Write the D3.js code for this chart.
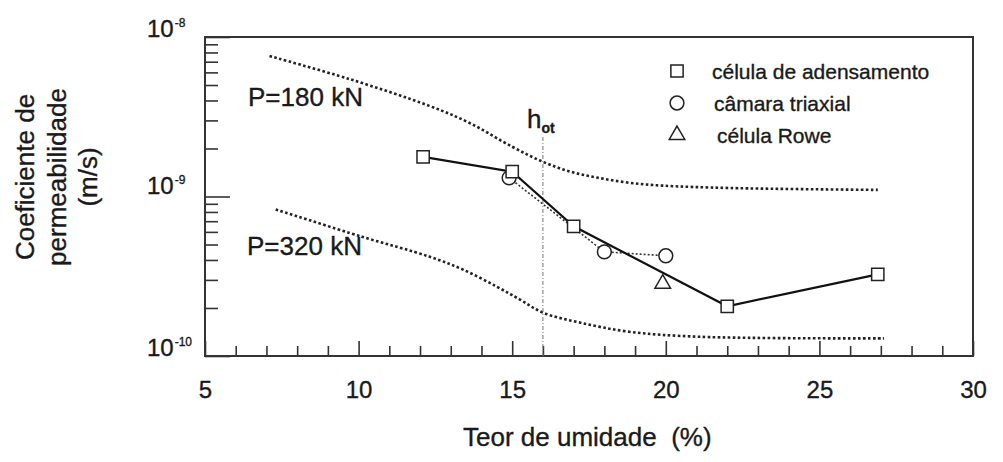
<!DOCTYPE html>
<html>
<head>
<meta charset="utf-8">
<script src="https://cdn.jsdelivr.net/npm/d3@7"></script>
<style>
  html, body { margin: 0; padding: 0; background: #fff; }
  svg { display: block; font-family: "Liberation Sans", Arial, sans-serif; }
  text { fill: #1a1a1a; stroke: #1a1a1a; stroke-width: 0.35px; white-space: pre; }
</style>
</head>
<body>
<svg id="chart" width="1003" height="462"></svg>
<script>
// Permeability coefficient vs. moisture content
const adensamentoX = [12.1, 15.0, 17.0, 22.0, 26.9];
const adensamentoK = [1.77e-9, 1.43e-9, 6.5e-10, 2.05e-10, 3.25e-10];

const triaxialX = [14.9, 18.0, 20.0];
const triaxialK = [1.31e-9, 4.5e-10, 4.25e-10];

const roweX = [19.9];
const roweK = [2.84e-10];

// reference curves for the two loads
const p180X = [7.1, 9.7, 12.3, 13.6, 15.0, 16.0, 16.9, 17.8, 18.8, 19.9, 22.1, 26.9];
const p180K = [7.6e-9, 5.45e-9, 3.7e-9, 2.9e-9, 2.05e-9, 1.65e-9, 1.43e-9, 1.31e-9, 1.22e-9, 1.17e-9, 1.13e-9, 1.10e-9];

const p320X = [7.3, 10.1, 12.3, 13.4, 14.5, 15.25, 16.0, 17.2, 18.8, 21.1, 27.1];
const p320K = [8.3e-10, 5.6e-10, 4.2e-10, 3.48e-10, 2.72e-10, 2.26e-10, 1.87e-10, 1.62e-10, 1.42e-10, 1.32e-10, 1.29e-10];

const hotX = 16;

const xMajorTicks = [5, 10, 15, 20, 25, 30];
const yMajorTicks = [1e-10, 1e-9, 1e-8];
const yTickExponents = ["-10", "-9", "-8"];
const legendLabels = ["célula de adensamento", "câmara triaxial", "célula Rowe"];

const svg = d3.select("#chart");
const x = d3.scaleLinear().domain([5, 30]).range([205, 973]);
const y = d3.scaleLog().domain([1e-10, 1e-8]).range([356, 37]);

const ink = "#1a1a1a";

// minor tick values
const xMinor = d3.range(6, 30).filter(v => v % 5 !== 0);
const yMinor = [];
[1e-10, 1e-9].forEach(d => { for (let m = 2; m <= 9; m++) yMinor.push(m * d); });

// bottom axis: inward ticks
const xAxisMinor = svg.append("g").attr("transform", "translate(0,356)")
  .call(d3.axisBottom(x).tickValues(xMinor).tickSize(-10).tickFormat(() => ""));
const xAxisMajor = svg.append("g").attr("transform", "translate(0,356)")
  .call(d3.axisBottom(x).tickValues(xMajorTicks).tickSize(-15).tickPadding(25));
xAxisMajor.selectAll("text").attr("font-size", 24).attr("fill", ink)
  .style("font-family", "'Liberation Sans', Arial, sans-serif");

// left axis: inward ticks
const yAxisMinor = svg.append("g").attr("transform", "translate(205,0)")
  .call(d3.axisLeft(y).tickValues(yMinor).tickSize(-13).tickFormat(() => ""));
const yAxisMajor = svg.append("g").attr("transform", "translate(205,0)")
  .call(d3.axisLeft(y).tickValues(yMajorTicks).tickSize(-25).tickFormat(() => ""));

[xAxisMinor, xAxisMajor, yAxisMinor, yAxisMajor].forEach(g => {
  g.select(".domain").remove();
  g.selectAll("line").attr("stroke", "#333").attr("stroke-width", 1.6);
});

// power-of-ten labels
yAxisMajor.selectAll(".tick").each(function(d, i) {
  const t = d3.select(this).append("text")
    .attr("x", -58).attr("y", i === 1 ? -3 : -1)
    .attr("text-anchor", "start")
    .attr("fill", ink)
    .style("font-family", "'Liberation Sans', Arial, sans-serif");
  t.append("tspan").attr("font-size", 24).text("10");
  t.append("tspan").attr("font-size", 12).attr("dy", -10).attr("dx", 1).text(yTickExponents[i]);
});

// frame
svg.append("rect")
  .attr("x", x(5)).attr("y", y(1e-8))
  .attr("width", x(30) - x(5)).attr("height", y(1e-10) - y(1e-8))
  .attr("fill", "none").attr("stroke", "#333").attr("stroke-width", 2);

// load curves
const curve = d3.line()
  .x(d => x(d[0])).y(d => y(d[1]))
  .curve(d3.curveCatmullRom.alpha(0.5));

[[p180X, p180K], [p320X, p320K]].forEach(([xs, ks]) => {
  svg.append("path")
    .datum(xs.map((v, i) => [v, ks[i]]))
    .attr("d", curve)
    .attr("fill", "none")
    .attr("stroke", "#222")
    .attr("stroke-width", 2.6)
    .attr("stroke-dasharray", "2.6,2.4");
});

// optimum moisture line
svg.append("line")
  .attr("x1", x(hotX)).attr("x2", x(hotX))
  .attr("y1", 137).attr("y2", y(1e-10))
  .attr("stroke", "#777").attr("stroke-width", 1)
  .attr("stroke-dasharray", "4,2,1,2");

const hot = svg.append("text").attr("x", 527).attr("y", 128).attr("fill", ink);
hot.append("tspan").attr("font-size", 26).text("h");
hot.append("tspan").attr("font-size", 14).attr("dy", 5).attr("font-weight", "bold").text("ot");

// measured series
const straight = d3.line().x(d => x(d[0])).y(d => y(d[1]));

svg.append("path")
  .datum(triaxialX.map((v, i) => [v, triaxialK[i]]))
  .attr("d", straight)
  .attr("fill", "none").attr("stroke", "#333")
  .attr("stroke-width", 1.6).attr("stroke-dasharray", "2,2");

svg.append("path")
  .datum(adensamentoX.map((v, i) => [v, adensamentoK[i]]))
  .attr("d", straight)
  .attr("fill", "none").attr("stroke", "#111")
  .attr("stroke-width", 2.2);

const sym = {
  square: d3.symbol().type(d3.symbolSquare).size(150),
  circle: d3.symbol().type(d3.symbolCircle).size(150),
  triangle: d3.symbol().type(d3.symbolTriangle).size(105)
};

function drawMarkers(xs, ks, gen) {
  svg.append("g").selectAll("path")
    .data(xs.map((v, i) => [v, ks[i]]))
    .join("path")
    .attr("transform", d => `translate(${x(d[0])},${y(d[1])})`)
    .attr("d", gen)
    .attr("fill", "#fff").attr("stroke", "#222").attr("stroke-width", 1.5);
}
drawMarkers(triaxialX, triaxialK, sym.circle);
drawMarkers(adensamentoX, adensamentoK, sym.square);
drawMarkers(roweX, roweK, sym.triangle);

// legend
const legendSyms = [sym.square, sym.circle, sym.triangle];
const legendRowY = [71, 103, 135];
const legendTextX = [712, 714, 717];
legendLabels.forEach((lbl, i) => {
  svg.append("path")
    .attr("transform", `translate(677,${legendRowY[i]})`)
    .attr("d", legendSyms[i])
    .attr("fill", "#fff").attr("stroke", "#222").attr("stroke-width", 1.5);
  svg.append("text")
    .attr("x", legendTextX[i]).attr("y", legendRowY[i] + 7.5)
    .attr("font-size", 21).attr("fill", ink)
    .text(lbl);
});

// load labels
svg.append("text").attr("x", 248).attr("y", 106).attr("font-size", 26).attr("fill", ink).text("P=180 kN");
svg.append("text").attr("x", 247).attr("y", 255).attr("font-size", 26).attr("fill", ink).text("P=320 kN");

// axis titles
svg.append("text").attr("x", 463).attr("y", 446).attr("font-size", 26).attr("fill", ink)
  .text("Teor de umidade  (%)");

const yTitle = svg.append("text")
  .attr("transform", "translate(0,177) rotate(-90)")
  .attr("text-anchor", "middle")
  .attr("font-size", 26).attr("fill", ink);
[["Coeficiente de", 34], ["permeabilidade", 66], ["(m/s)", 97]].forEach(([s, b]) => {
  yTitle.append("tspan").attr("x", 0).attr("y", b).text(s);
});
</script>
</body>
</html>
